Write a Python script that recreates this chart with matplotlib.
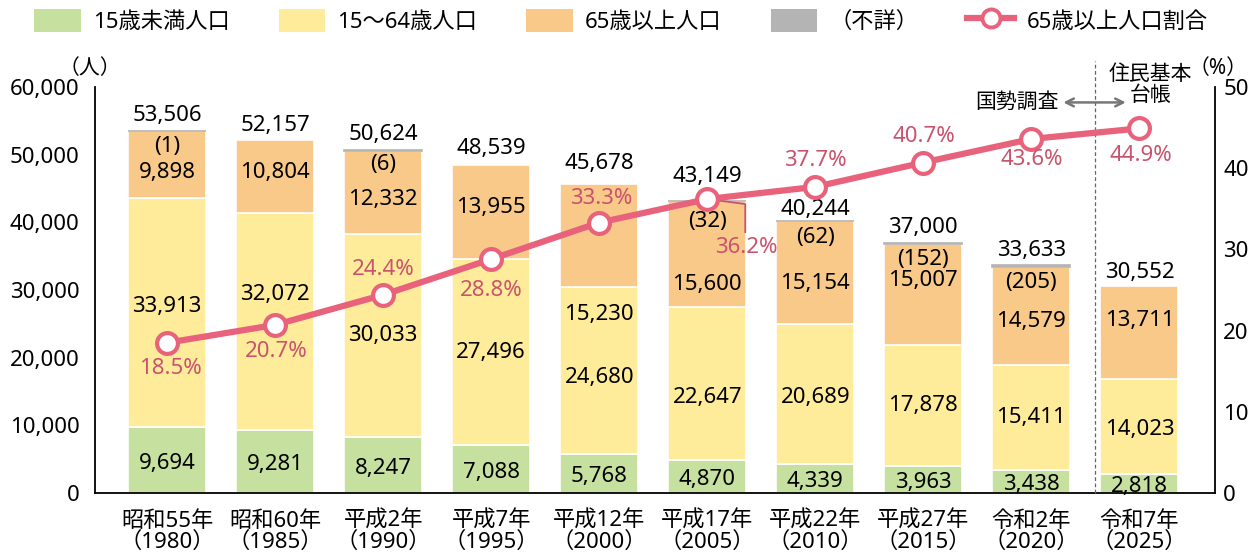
import matplotlib
matplotlib.use('Agg')
import matplotlib.pyplot as plt
from matplotlib.lines import Line2D
from matplotlib.patches import Patch
import numpy as np

plt.rcParams['font.family'] = ['Noto Sans', 'Noto Sans CJK JP', 'DejaVu Sans']
plt.rcParams['font.size'] = 16

# --- data ---
years = ['昭和55年\n（1980）', '昭和60年\n（1985）', '平成2年\n（1990）', '平成7年\n（1995）',
         '平成12年\n（2000）', '平成17年\n（2005）', '平成22年\n（2010）', '平成27年\n（2015）',
         '令和2年\n（2020）', '令和7年\n（2025）']
young = [9694, 9281, 8247, 7088, 5768, 4870, 4339, 3963, 3438, 2818]
working = [33913, 32072, 30033, 27496, 24680, 22647, 20689, 17878, 15411, 14023]
old = [9898, 10804, 12332, 13955, 15230, 15600, 15154, 15007, 14579, 13711]
unknown = [1, 0, 6, 0, 0, 32, 62, 152, 205, 0]
totals = [53506, 52157, 50624, 48539, 45678, 43149, 40244, 37000, 33633, 30552]
old_ratio = [18.5, 20.7, 24.4, 28.8, 33.3, 36.2, 37.7, 40.7, 43.6, 44.9]

# label nudges in pixels (positive = down)
old_dy = [8, -4, 7, -4, 79, 30, 11, -14, 5, -12]
mid_dy = [-6, -27, 0, 0, 7, 14, 4, 0, 0, 3]
tot_up = [15, 15, 16, 16, 20, 25, 11, 15, 15, 14]
unk_dy = [16, 0, 14, 0, 0, 20, 17, 17, 17, 0]
pct_dy = [26, 27, -25, 31, -24, 48, -26, -26, 21, 27]
pct_dx = [3, 1, 0, 0, 2, 39, 0, 1, 0, 1]

c_young = '#c5e09f'
c_work = '#feec9b'
c_old = '#f9c98a'
c_unk = '#b4b4b4'
c_line = '#e8627c'
c_pct = '#c9536d'

x = np.arange(len(years))
young = np.array(young); working = np.array(working); old = np.array(old)
unknown = np.array(unknown)

fig = plt.figure(figsize=(12.53, 5.6), dpi=100)
ax = fig.add_axes([95 / 1253, 67 / 560, 1120 / 1253, 406 / 560])

w = 0.72
ax.bar(x, young, w, color=c_young, edgecolor='white', linewidth=1.2)
ax.bar(x, working, w, bottom=young, color=c_work, edgecolor='white', linewidth=1.2)
ax.bar(x, old, w, bottom=young + working, color=c_old, edgecolor='white', linewidth=1.2)
has_unk = unknown > 0
ax.bar(x[has_unk], unknown[has_unk], w, bottom=(young + working + old)[has_unk],
       color=c_unk, edgecolor=c_unk, linewidth=1.2)

ax.set_xlim(-0.667, 9.70)
ax.set_ylim(0, 60000)
ax.set_yticks(np.arange(0, 60001, 10000))
ax.set_yticklabels([f'{v:,}' for v in range(0, 60001, 10000)])
ax.set_xticks(x)
ax.set_xticklabels(years, linespacing=1.0)
ax.tick_params(axis='both', length=0)
ax.tick_params(axis='x', pad=13)
ax.tick_params(axis='y', pad=11)
ax.spines['top'].set_visible(False)
ax.spines['right'].set_visible(False)
ax.spines['left'].set_linewidth(1.3)
ax.spines['bottom'].set_linewidth(1.3)

for i in range(len(x)):
    ax.annotate(f'{young[i]:,}', (x[i], young[i] / 2), xytext=(0, -3),
                textcoords='offset pixels', ha='center', va='center')
    ax.annotate(f'{working[i]:,}', (x[i], young[i] + working[i] / 2),
                xytext=(0, -mid_dy[i]), textcoords='offset pixels', ha='center', va='center')
    ax.annotate(f'{old[i]:,}', (x[i], young[i] + working[i] + old[i] / 2),
                xytext=(0, -old_dy[i]), textcoords='offset pixels', ha='center', va='center')
    top = young[i] + working[i] + old[i] + unknown[i]
    if unknown[i] > 0:
        ax.annotate(f'({unknown[i]})', (x[i], top), xytext=(0, -unk_dy[i]),
                    textcoords='offset pixels', ha='center', va='center')
    ax.annotate(f'{totals[i]:,}', (x[i], top), xytext=(0, tot_up[i]),
                textcoords='offset pixels', ha='center', va='center')

# right axis: ratio
ax2 = ax.twinx()
ax2.set_ylim(0, 50)
ax2.set_yticks(np.arange(0, 51, 10))
ax2.tick_params(axis='y', length=0, pad=6)
ax2.spines['top'].set_visible(False)
ax2.spines['left'].set_visible(False)
ax2.spines['bottom'].set_visible(False)
ax2.spines['right'].set_linewidth(1.3)

ax2.plot(x, old_ratio, '-', color=c_line, linewidth=4.5, marker='o', markersize=15,
         markerfacecolor='white', markeredgecolor=c_line, markeredgewidth=3, zorder=5)

for i in range(len(x)):
    ax2.annotate(f'{old_ratio[i]}%', (x[i], old_ratio[i]), xytext=(pct_dx[i], -pct_dy[i]),
                 textcoords='offset pixels', ha='center', va='center', color=c_pct, zorder=6)

# leader line for 2005 label
i5 = 5
px = 1 / 108  # data units per pixel on x
py = 50 / 406
ax2.plot([x[i5], x[i5] + 38 * px, x[i5] + 38 * px],
         [old_ratio[i5], old_ratio[i5] - 5 * py, old_ratio[i5] - 33 * py],
         color=c_pct, linewidth=1.3, zorder=4)

# census / registry divider
ax2.plot([8.59, 8.59], [0, 53.2], color='#666666', linestyle=(0, (3, 2)),
         linewidth=0.9, clip_on=False, zorder=1)
ax2.annotate('', xy=(8.27, 48.1), xytext=(8.9, 48.1),
             arrowprops=dict(arrowstyle='<->', color='#777777', lw=1.8, mutation_scale=14))
ax2.text(8.25, 48.1, '国勢調査', ha='right', va='center', fontsize=15)
ax2.text(9.1, 50.3, '住民基本\n台帳', ha='center', va='center', fontsize=15, linespacing=1.0)

fig.text(90 / 1253, 1 - 68 / 560, '（人）', ha='center', va='center', fontsize=15)
fig.text(1218 / 1253, 1 - 68 / 560, '（%）', ha='center', va='center', fontsize=15)

handles = [Patch(facecolor=c_young), Patch(facecolor=c_work), Patch(facecolor=c_old),
           Patch(facecolor=c_unk),
           Line2D([], [], color=c_line, linewidth=4.5, marker='o', markersize=13,
                  markerfacecolor='white', markeredgecolor=c_line, markeredgewidth=2.8)]
labels = ['15歳未満人口', '15～64歳人口', '65歳以上人口', '（不詳）', '65歳以上人口割合']
fig.legend(handles, labels, loc='center left', bbox_to_anchor=(34 / 1253, 1 - 21 / 560),
           ncol=5, frameon=False, handlelength=2.1, handleheight=1.25, handletextpad=0.55,
           columnspacing=2.2, fontsize=16, borderaxespad=0, borderpad=0)

fig.savefig('out.png', dpi=100)
